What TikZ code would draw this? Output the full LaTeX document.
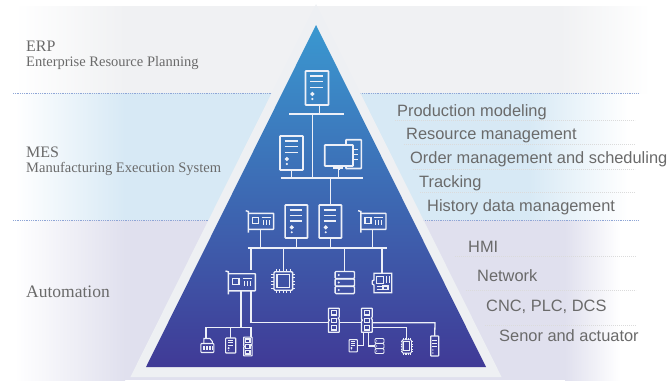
\documentclass[tikz,border=0pt]{standalone}
\usepackage{fontspec}
\setmainfont{Liberation Serif}
\setsansfont{Liberation Sans}
\usetikzlibrary{calc}
\definecolor{erpc}{HTML}{F0F1F3}
\definecolor{mesc}{HTML}{D7E9F5}
\definecolor{autoc}{HTML}{E0E0EE}
\definecolor{edgec}{HTML}{EEF0F3}
\definecolor{iconc}{HTML}{EDF0F8}
\definecolor{textc}{HTML}{6A6A6A}
\definecolor{dotc}{HTML}{8FA6D6}
\definecolor{pyrtop}{HTML}{3A98D0}
\definecolor{pyrmid}{HTML}{4E6BB2}
\definecolor{pyrbot}{HTML}{403A96}
\tikzset{
  wire/.style={draw=iconc, line width=1.3pt},
  bluedots/.style={draw=dotc, line width=.7pt, dash pattern=on .9pt off .9pt},
  greydots/.style={draw=gray!28, line width=.6pt, dash pattern=on .8pt off 1.2pt},
  lefthead/.style={anchor=base west, inner sep=0pt, text=textc, font=\rmfamily\fontsize{16}{18}\selectfont},
  leftbig/.style={anchor=base west, inner sep=0pt, text=textc, font=\rmfamily\fontsize{17.5}{19}\selectfont},
  leftsub/.style={anchor=base west, inner sep=0pt, text=textc, font=\rmfamily\fontsize{14.5}{16}\selectfont},
  rightitem/.style={anchor=base west, inner sep=0pt, text=textc, font=\sffamily\fontsize{16.4}{18}\selectfont},
  iconbase/.style={inner sep=0pt, outer sep=0pt},
  server/.style={iconbase, draw=iconc, line width={(.6+1.1*#1)*1pt}, rounded corners=.6pt, minimum width=#1*23pt, minimum height=#1*34pt,
    append after command={\pgfextra{\begin{scope}[shift={(\tikzlastnode.center)},scale=#1,line width={(.5+.9*#1)*1pt}]
      \draw[iconc] (-7,-12)--(6.3,-12) (-7,-6.3)--(6.3,-6.3) (-7,-.7)--(6.3,-.7);
      \draw[iconc] (-4.7,6) circle (1.3);
      \fill[iconc] (-4.7,11) circle (1.2);
    \end{scope}}}},
  slimbox/.style={iconbase, draw=iconc, line width=1.1pt, rounded corners=.5pt, minimum width=8pt, minimum height=20pt,
    append after command={\pgfextra{\begin{scope}[shift={(\tikzlastnode.center)},line width=.8pt]
      \draw[iconc] (-2.5,-6)--(2.5,-6) (-2.5,-3)--(2.5,-3) (-2.5,0)--(2.5,0);
      \fill[iconc] (-1.8,4) circle (.7) (-1.8,7) circle (.7);
    \end{scope}}}},
  desktop/.style={iconbase, minimum width=38pt, minimum height=31pt,
    append after command={\pgfextra{\begin{scope}[shift={(\tikzlastnode.center)},line width=1.6pt]
      \draw[iconc, rounded corners=.5pt] (3,-9.5)--(3,-14.8)--(18.3,-14.8)--(18.3,14)--(3,14)--(3,11.5);
      \draw[iconc, rounded corners=.5pt] (-18.3,-9.5) rectangle (10,11.5);
      \draw[iconc, line width=1pt] (10,-5)--(15,-5) (10,0)--(15,0) (10,5)--(15,5);
      \draw[iconc] (-10,13.3)--(0,13.3) (-4.3,11.5)--(-4.3,15.5);
    \end{scope}}}},
  card/.style={iconbase, minimum width=#1*29pt, minimum height=#1*23pt,
    append after command={\pgfextra{\begin{scope}[shift={(\tikzlastnode.center)},scale=#1,line width=1.4pt]
      \draw[iconc] (-14.2,-10.8)--(-11.5,-10)--(-11.5,11.2);
      \draw[iconc, rounded corners=.5pt] (-11.5,-8.2)--(13.7,-8.2)--(13.7,7.8)--(-11.5,7.8);
      \draw[iconc] (-7.5,-3.8) rectangle (-1.5,1.8);
      \draw[iconc, line width=1pt] (1.8,-3.8)--(10.8,-3.8) (3.5,-1.3)--(3.5,3.5) (6.5,-1.3)--(6.5,3.5) (9.5,-1.3)--(9.5,3.5);
    \end{scope}}}},
  chip/.style 2 args={iconbase, minimum width=#1*24pt, minimum height=#2*24pt,
    append after command={\pgfextra{\begin{scope}[shift={(\tikzlastnode.center)},xscale=#1,yscale=#2,line width={(.5+.8*#1)*1pt}]
      \draw[iconc, rounded corners=1pt] (-9.3,-9.3) rectangle (9.3,9.3);
      \draw[iconc] (-6.2,-6.2) rectangle (6.2,6.2);
      \foreach \t in {-7,-3.5,0,3.5,7} {
        \draw[iconc, line width=.7pt] (\t,-12)--(\t,-9.3) (\t,9.3)--(\t,12) (-12,\t)--(-9.3,\t) (9.3,\t)--(12,\t);
      }
    \end{scope}}}},
  rack/.style 2 args={iconbase, minimum width=#1*20pt, minimum height=#2*23pt,
    append after command={\pgfextra{\begin{scope}[shift={(\tikzlastnode.center)},xscale=#1,yscale=#2,line width={(.5+.8*#1)*1pt}]
      \foreach \t in {-7.5,0,7.5} {
        \draw[iconc, rounded corners=1pt] (-9.7,\t-3.6) rectangle (9.7,\t+3.6);
        \fill[iconc] (-6,\t) circle (1.1);
      }
    \end{scope}}}},
  board/.style={iconbase, minimum width=20pt, minimum height=20pt,
    append after command={\pgfextra{\begin{scope}[shift={(\tikzlastnode.center)},line width=1.3pt]
      \draw[iconc] (-8,-3)--(-8,-9.8)--(9.8,-9.8)--(9.8,9.8)--(-8,9.8)--(-8,2)--(-9.8,1)--(-9.8,-2)--cycle;
      \draw[iconc] (-5.3,-6.3) rectangle (1.3,.3);
      \draw[iconc] (1,3) rectangle (6,6.7);
      \draw[iconc, line width=.8pt] (-5.5,3)--(-.5,3) (-5.5,6)--(-.5,6) (4,-7)--(4,0) (7,-7)--(7,0);
    \end{scope}}}},
  module/.style={iconbase, minimum width=#1*11pt, minimum height=#1*24pt,
    append after command={\pgfextra{\begin{scope}[shift={(\tikzlastnode.center)},scale=#1,line width=1.2pt]
      \draw[iconc, rounded corners=.4pt] (-5.4,-12)--(5.4,-12)--(5.4,-3)--(4.2,-2)--(5.4,-1)--(5.4,12)--(-5.4,12)--(-5.4,1)--(-4.2,0)--(-5.4,-1)--cycle;
      \foreach \t in {-7.5,0,7.5} { \draw[iconc] (-2.6,\t-2.2) rectangle (2.6,\t+2.2); }
    \end{scope}}}},
  printer/.style={iconbase, minimum width=14pt, minimum height=15pt,
    append after command={\pgfextra{\begin{scope}[shift={(\tikzlastnode.center)},line width=1.1pt]
      \draw[iconc] (-3.5,-2)--(-3.5,-7)--(2.5,-7)--(5,-4)--(5,-2);
      \draw[iconc, rounded corners=.8pt] (-6.5,-2) rectangle (6.5,7);
      \foreach \t in {-4.5,-3,-1.5,0,1.5,3,4.5} { \draw[iconc, line width=.6pt] (\t,.5)--(\t,4.5); }
    \end{scope}}}}
}
\begin{document}
\begin{tikzpicture}[x=1pt,y=-1pt]
  \useasboundingbox (0,0) rectangle (668,380);

  \newcommand\FL{15}
  \newcommand\FM{125}

  %% bands behind the pyramid
  \foreach \ya/\yb/\bandc/\FN/\FR in {6/93/erpc/560/650, 93/220/mesc/528/628, 220/380/autoc/565/620} {
    \shade[left color=white, right color=\bandc] (\FL,\ya) rectangle (\FM,\yb);
    \fill[\bandc] (\FM-.5,\ya) rectangle (\FN+.5,\yb);
    \shade[left color=\bandc, right color=white] (\FN,\ya) rectangle (\FR,\yb);
  }
  \draw[bluedots] (13,93)--(638,93);
  \draw[bluedots] (13,220)--(638,220);

  %% dots under the items
  \draw[greydots] (395,120.7)--(635,120.7);
  \draw[greydots] (404,144.7)--(635,144.7);
  \draw[greydots] (413,169)--(635,169);
  \draw[greydots] (420,192)--(635,192);
  \draw[greydots] (455,256.7)--(636,256.7);
  \draw[greydots] (466,290.7)--(636,290.7);
  \draw[greydots] (485,325)--(636,325);

  %% pyramid
  \fill[edgec] (316,4)--(501.6,377)--(130.4,377)--cycle;
  \shade[top color=pyrtop, middle color=pyrmid, bottom color=pyrbot]
    (316,25)--(486,367)--(146,367)--cycle;

  %% left texts
  \node[lefthead] (erp) at (26,51.7) {ERP};
  \node[leftsub] (erpsub) at (26,66) {Enterprise Resource Planning};
  \node[lefthead] (mes) at (26,157.7) {MES};
  \node[leftsub] (messub) at (26,172) {Manufacturing Execution System};
  \node[leftbig] (automation) at (26,297) {Automation};

  %% right texts
  \node[rightitem] (item1) at (397,116) {Production modeling};
  \node[rightitem] (item2) at (406,139.5) {Resource management};
  \node[rightitem] (item3) at (410,163.5) {Order management and scheduling};
  \node[rightitem] (item4) at (419,187) {Tracking};
  \node[rightitem] (item5) at (427,211) {History data management};
  \node[rightitem] (item6) at (468,252) {HMI};
  \node[rightitem] (item7) at (477,281.5) {Network};
  \node[rightitem] (item8) at (486,311) {CNC, PLC, DCS};
  \node[rightitem] (item9) at (499,341.5) {Senor and actuator};

  %% icons
  \node[server=1] (srvtop) at (317,88) {};
  \node[server=1] (srvmes) at (291.5,153) {};
  \node[desktop] (deskmes) at (343,154.5) {};
  \node[card=1] (carda) at (259.9,221.5) {};
  \node[server=.97] (srvb) at (296.3,221.5) {};
  \node[server=.97] (srvc) at (330.3,221.5) {};
  \node[card=1] (cardb) at (372.3,221.5) {};
  \node[card=1.07] (cardc) at (240.7,282.5) {};
  \node[chip={1}{1}] (chipa) at (283.3,281) {};
  \node[rack={1}{1}] (racka) at (344.8,282.5) {};
  \node[board] (boarda) at (382,283) {};
  \node[module=1] (moda) at (333.8,320.3) {};
  \node[module=1] (modb) at (366.8,320.3) {};
  \node[printer] (print) at (207.4,345.5) {};
  \node[server=.44] (srvd) at (230.7,345.5) {};
  \node[module=.78] (modc) at (247.9,346.5) {};
  \node[server=.36] (docb) at (353.2,345.8) {};
  \node[rack={.46}{.68}] (rackb) at (379.5,346) {};
  \node[chip={.5}{.72}] (chipb) at (406.8,346.4) {};
  \node[slimbox] (slim) at (434.7,346) {};

  %% buses
  \coordinate (busaw) at (289,114);
  \coordinate (busae) at (344,114);
  \coordinate (busat) at (312.7,114);
  \coordinate (busbw) at (280.7,178);
  \coordinate (busbe) at (362.7,178);
  \coordinate (buscw) at (247.7,248);
  \coordinate (busce) at (387.3,248);
  \coordinate (busdw) at (206,327.3);
  \coordinate (busde) at (251,327.3);
  \coordinate (busex) at (251,322.7);
  \coordinate (busfx) at (435,322.7);
  \coordinate (busgx) at (406.8,327.7);

  %% connectors
  \draw[wire] (busaw)--(busae);
  \draw[wire] (busbw)--(busbe);
  \draw[wire] (buscw)--(busce);
  \draw[wire] ([xshift=2.3pt]srvtop.south)--([xshift=2.3pt]srvtop.south |- busaw);
  \draw[wire] (busat)--(busat |- busbw);
  \draw[wire] (srvmes.south)--(srvmes.south |- busbw);
  \draw[wire] ([xshift=-4.3pt]deskmes.south)--([xshift=-4.3pt]deskmes.south |- busbw);
  \draw[wire] (srvc.north |- busbw)--(srvc.north);
  \draw[wire] ([xshift=.8pt,yshift=3.7pt]carda.south)--([xshift=.8pt]carda.south |- buscw);
  \draw[wire] (srvb.south)--(srvb.south |- buscw);
  \draw[wire] (srvc.south)--(srvc.south |- buscw);
  \draw[wire] ([xshift=.4pt,yshift=3.7pt]cardb.south)--([xshift=.4pt]cardb.south |- buscw);
  \draw[wire] (cardc.north -| busde)--(busde |- buscw);
  \draw[wire] (chipa.north |- buscw)--(chipa.north);
  \draw[wire] (racka.north |- buscw)--(racka.north);
  \draw[wire] (boarda.north |- buscw)--(boarda.north);
  %% from the lower card
  \draw[wire] (busdw)--(busde);
  \draw[wire] ([xshift=.3pt,yshift=4pt]cardc.south)--([xshift=.3pt]cardc.south |- busdw);
  \draw[wire] ([xshift=10.3pt,yshift=4pt]cardc.south)--(busex)--(moda.west |- busex);
  \draw[wire] (moda.east |- busex)--(modb.west |- busex);
  \draw[wire] (modb.east |- busex)--(busfx)--(slim.north);
  \draw[wire] (modb.east |- busgx)--(busgx)--(chipb.north);
  \draw[wire] (busdw)--(print.north -| busdw);
  \draw[wire] (srvd.north |- busdw)--(srvd.north);
  \draw[wire] (busde)--(modc.north -| busde);
  \draw[wire] ([xshift=-3pt]modb.south)--([xshift=-3pt]modb.south |- docb.east)--(docb.east);
  \draw[wire] ([xshift=2pt]modb.south)--([xshift=2pt]modb.south |- rackb.west)--(rackb.west);

\end{tikzpicture}
\end{document}
